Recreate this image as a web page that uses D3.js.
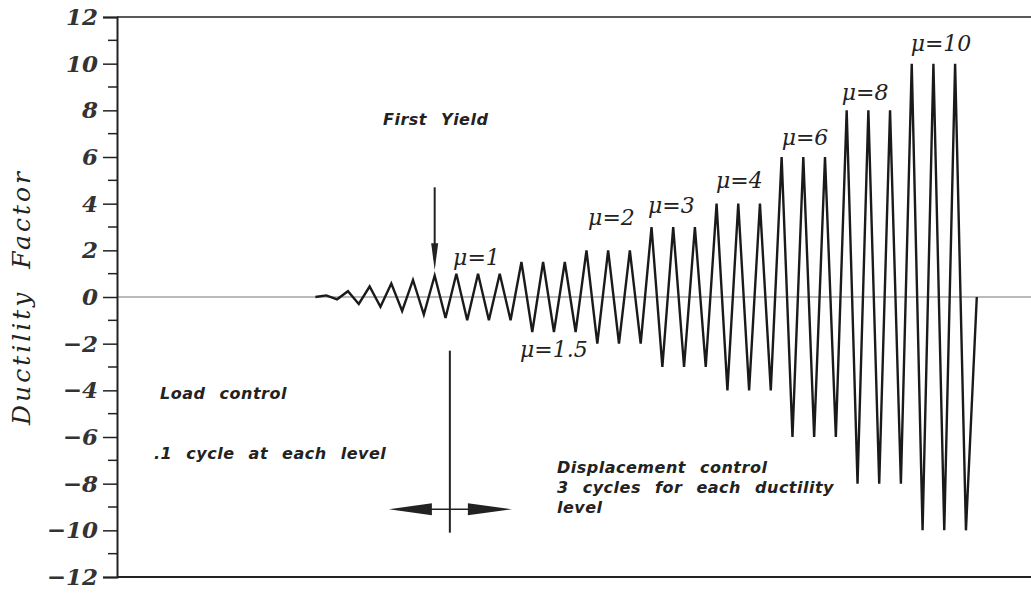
<!DOCTYPE html>
<html>
<head>
<meta charset="utf-8">
<script src="https://cdn.jsdelivr.net/npm/d3@7"></script>
<style>
  body { margin: 0; background: #fff; }
  svg { display: block; }
</style>
</head>
<body>
<svg width="1031" height="593"></svg>
<script>
// load control: one cycle per level, [peak, trough]
const loadCycles = [
  [0.07, -0.1], [0.25, -0.3], [0.45, -0.42],
  [0.58, -0.6], [0.73, -0.75], [0.92, -0.9]
]
// displacement control: 3 cycles at each ductility level
const ductilityLevels = [1, 1.5, 2, 3, 4, 6, 8, 10]
const cyclesPerLevel = 3
const yTicks = [-12, -10, -8, -6, -4, -2, 0, 2, 4, 6, 8, 10, 12]
const muLabels = ['1', '1.5', '2', '3', '4', '6', '8', '10']

// build the zigzag: half-cycle steps, starting and ending at zero
let signal = [0]
loadCycles.forEach(c => { signal.push(c[0]); signal.push(c[1]) })
ductilityLevels.forEach(m => {
  for (let i = 0; i < cyclesPerLevel; i++) { signal.push(m); signal.push(-m) }
})
signal.push(0)

const svg = d3.select('svg')
const plotL = 117, plotR = 1031, plotT = 17, plotB = 577

// x is in half-cycles, y is ductility factor
const x = d3.scaleLinear().domain([-18.3, 66]).range([plotL, plotR])
const y = d3.scaleLinear().domain([-12, 12]).range([plotB, plotT])

const tickFont = '"DejaVu Serif", serif'
const noteFont = '"DejaVu Sans", sans-serif'

// frame: top and bottom lines, zero line
svg.append('line').attr('x1', plotL).attr('x2', plotR).attr('y1', y(12)).attr('y2', y(12))
  .style('stroke', '#222').style('stroke-width', 1.6)
svg.append('line').attr('x1', plotL).attr('x2', plotR).attr('y1', y(-12)).attr('y2', y(-12))
  .style('stroke', '#222').style('stroke-width', 2)
svg.append('line').attr('x1', plotL).attr('x2', plotR).attr('y1', y(0)).attr('y2', y(0))
  .style('stroke', '#777').style('stroke-width', 1.2)

// y axis
const yAxis = d3.axisLeft(y).tickValues(yTicks).tickSize(14).tickPadding(5)
  .tickFormat(d => d < 0 ? '\u2212' + Math.abs(d) : d)
const gy = svg.append('g').attr('transform', `translate(${plotL},0)`).call(yAxis)
gy.select('.domain').style('stroke', '#222').style('stroke-width', 2)
gy.selectAll('.tick line').style('stroke', '#222').style('stroke-width', 1.5)
gy.selectAll('.tick text')
  .style('font-family', tickFont).style('font-style', 'italic').style('font-weight', 'bold')
  .style('font-size', '23px').style('fill', '#333')

// minor ticks at odd values
svg.append('g').selectAll('line')
  .data(d3.range(-11, 12, 2))
  .join('line')
  .attr('x1', plotL - 9).attr('x2', plotL)
  .attr('y1', d => y(d)).attr('y2', d => y(d))
  .style('stroke', '#222').style('stroke-width', 1.5)

// y title
svg.append('text')
  .attr('transform', `translate(30,${y(0)}) rotate(-90)`)
  .attr('text-anchor', 'middle')
  .style('font-family', tickFont).style('font-style', 'italic')
  .style('font-size', '25px').style('letter-spacing', '3px').style('word-spacing', '10px')
  .style('fill', '#222')
  .text('Ductility Factor')

// the zigzag
const line = d3.line().x((d, i) => x(i)).y(d => y(d))
svg.append('path')
  .datum(signal)
  .attr('d', line)
  .style('fill', 'none')
  .style('stroke', '#1a1a1a')
  .style('stroke-width', 2.4)
  .style('stroke-linejoin', 'miter')

// mu labels near the first peak of each level, [dx in half-cycles, y]
const firstPeak = loadCycles.length * 2 + 1
const muPos = [
  [-0.3, 1.37], [-0.13, -2.57], [0.15, 3.09], [-0.32, 3.6],
  [-0.05, 4.67], [0, 6.51], [-0.45, 8.44], [-0.1, 10.54]
]
muLabels.forEach((m, k) => {
  const idx = firstPeak + k * cyclesPerLevel * 2
  svg.append('text')
    .attr('x', x(idx + muPos[k][0]))
    .attr('y', y(muPos[k][1]))
    .style('font-family', tickFont).style('font-style', 'italic')
    .style('font-size', '22px').style('fill', '#222')
    .text('\u03bc=' + m)
})

// first yield arrow
const yieldIdx = loadCycles.length * 2 - 1
svg.append('line')
  .attr('x1', x(yieldIdx)).attr('x2', x(yieldIdx))
  .attr('y1', y(4.7)).attr('y2', y(1.6))
  .style('stroke', '#222').style('stroke-width', 2)
svg.append('path')
  .attr('d', `M${x(yieldIdx) - 3.5},${y(2.3)} L${x(yieldIdx) + 3.5},${y(2.3)} L${x(yieldIdx)},${y(1.15)} Z`)
  .style('fill', '#222')

// load / displacement control divider
const divX = x(yieldIdx + 1.4)
svg.append('line')
  .attr('x1', divX).attr('x2', divX).attr('y1', y(-2.3)).attr('y2', y(-10.1))
  .style('stroke', '#222').style('stroke-width', 2)
svg.append('line')
  .attr('x1', divX - 20).attr('x2', divX + 20).attr('y1', y(-9.1)).attr('y2', y(-9.1))
  .style('stroke', '#222').style('stroke-width', 1.5)
const ay = y(-9.1)
svg.append('path')
  .attr('d', `M${divX - 61},${ay} L${divX - 18},${ay - 6} L${divX - 18},${ay + 6} Z`)
  .style('fill', '#222')
svg.append('path')
  .attr('d', `M${divX + 62},${ay} L${divX + 18},${ay - 6} L${divX + 18},${ay + 6} Z`)
  .style('fill', '#222')

// notes
const notes = [
  { x: 383, y: 125, t: 'First Yield' },
  { x: 160, y: 399, t: 'Load control' },
  { x: 154, y: 459, t: '.1 cycle at each level' },
  { x: 557, y: 473, t: 'Displacement control' },
  { x: 557, y: 493, t: '3 cycles for each ductility' },
  { x: 557, y: 513, t: 'level' }
]
svg.append('g').selectAll('text')
  .data(notes)
  .join('text')
  .attr('x', d => d.x).attr('y', d => d.y)
  .style('font-family', noteFont).style('font-style', 'italic').style('font-weight', 'bold')
  .style('font-size', '16px').style('letter-spacing', '0.5px').style('word-spacing', '8px')
  .style('fill', '#222')
  .text(d => d.t)
</script>
</body>
</html>
